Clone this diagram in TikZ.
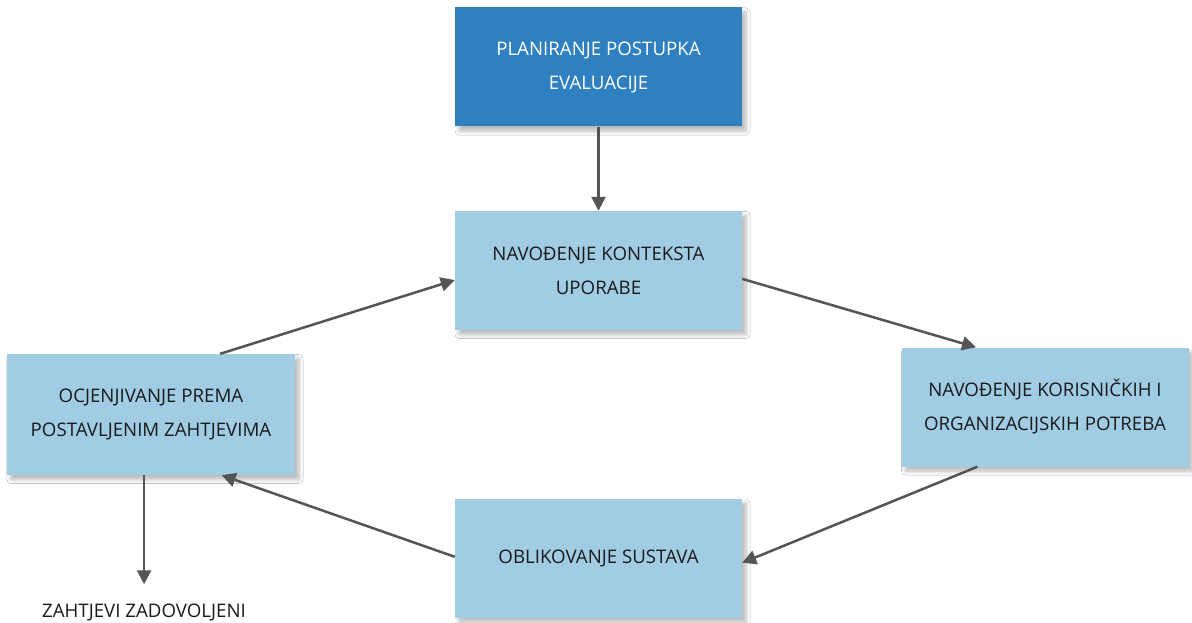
\documentclass[tikz,border=0pt]{standalone}
\usepackage{fontspec}
\setmainfont{Open Sans}
\usetikzlibrary{arrows.meta,calc,shadows.blur}
\definecolor{darkbox}{HTML}{2E80C0}
\definecolor{lightbox}{HTML}{A0CCE4}
\definecolor{arrowgray}{HTML}{555555}
\definecolor{txt}{HTML}{1A1A1A}
\tikzset{
  box/.style={rectangle, minimum width=287pt, minimum height=119pt, inner sep=0pt,
    align=center, font=\fontsize{18.7}{34}\selectfont,
    blur shadow={shadow blur steps=6, shadow xshift=4pt, shadow yshift=-4.5pt, shadow opacity=28, shadow blur radius=4pt}},
  darkb/.style={box, fill=darkbox, text=white},
  lightb/.style={box, fill=lightbox, text=txt},
  conn/.style={draw=arrowgray, line width=2.5pt, -{Triangle[length=14pt,width=14pt]}, arrowgray},
}
\begin{document}
\begin{tikzpicture}[x=1pt,y=-1pt]
\useasboundingbox[fill=white] (0,0) rectangle (1192,623);
\node[darkb] (top) at (598.5,67) {PLANIRANJE POSTUPKA\\EVALUACIJE};
\node[lightb] (mid) at (598.5,270.5) {NAVOĐENJE KONTEKSTA\\UPORABE};
\node[lightb] (right) at (1045,407) {NAVOĐENJE KORISNIČKIH I\\ORGANIZACIJSKIH POTREBA};
\node[lightb] (bot) at (598.5,558) {OBLIKOVANJE SUSTAVA};
\node[lightb, minimum width=288pt, minimum height=121pt] (left) at (151,414.5) {OCJENJIVANJE PREMA\\POSTAVLJENIM ZAHTJEVIMA};
\node[font=\fontsize{18.7}{20}\selectfont, text=txt, inner sep=0pt] (done) at (144,612) {ZAHTJEVI ZADOVOLJENI};

\draw[conn] (top.south) -- (mid.north);
\draw[conn] ($(mid.north east)!0.57!(mid.south east)$) -- ($(right.north west)!0.26!(right.north east)$);
\draw[conn] ($(right.south west)!0.265!(right.south east)$) -- ($(bot.north east)!0.54!(bot.south east)$);
\draw[conn] ($(bot.north west)!0.49!(bot.south west)$) -- ($(left.south west)!0.745!(left.south east)$);
\draw[conn] ($(left.north west)!0.74!(left.north east)$) -- ($(mid.north west)!0.58!(mid.south west)$);
\draw[conn, shorten >=19pt] ($(left.south west)!0.476!(left.south east)$) -- (done.north -| {$(left.south west)!0.476!(left.south east)$});
\end{tikzpicture}
\end{document}
